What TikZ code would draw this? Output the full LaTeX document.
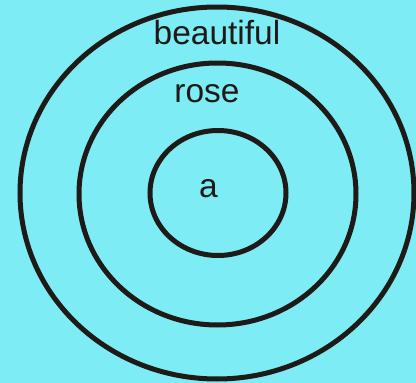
\documentclass[tikz,border=0pt]{standalone}
\usepackage{fontspec}
\setmainfont{Liberation Sans}
\definecolor{bgcyan}{RGB}{126,236,244}
\definecolor{ringink}{RGB}{30,26,23}
\begin{document}
\begin{tikzpicture}[x=1pt,y=-1pt,
  ring/.style={draw=ringink,line width=5pt},
  word/.style={inner sep=0pt,anchor=base,text=ringink,font=\fontsize{33.5}{40}\selectfont}]
\fill[bgcyan] (0,0) rectangle (416,383);
\useasboundingbox (0,0) rectangle (416,383);
\draw[ring] (217,193) ellipse [x radius=197, y radius=186];
\draw[ring] (217.5,194) ellipse [x radius=138.5, y radius=131];
\draw[ring] (218,193) ellipse [x radius=68, y radius=62.5];
\node[word] (beautiful) at (217,44) {beautiful};
\node[word] (rose) at (207,102) {rose};
\node[word] (a) at (208.5,197) {a};
\end{tikzpicture}
\end{document}
